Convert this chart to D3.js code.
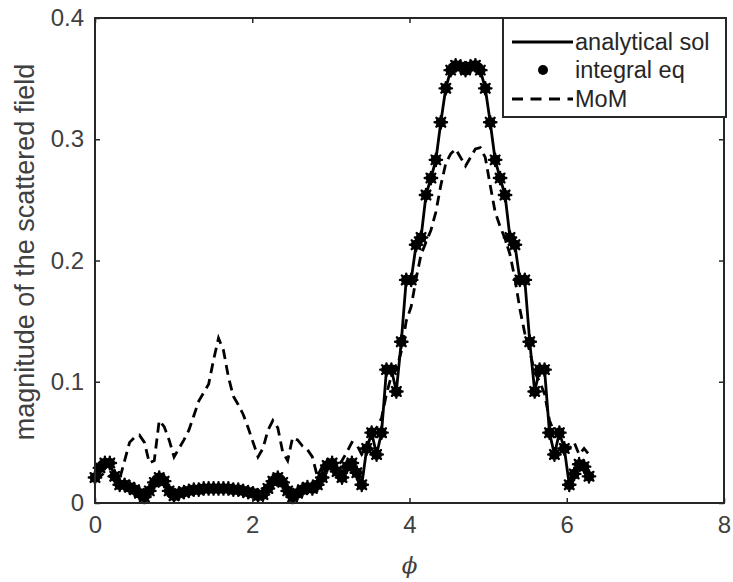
<!DOCTYPE html>
<meta charset="utf-8">
<style>
  body { margin: 0; background: #fff; }
  text { font-family: "Liberation Sans", Arial, sans-serif; }
</style>

<svg width="733" height="582"></svg>
<script src="https://d3js.org/d3.v7.min.js"></script>
<script>

    // data: 101 samples of phi on [0, 2*pi]
    var nSamples = 101;

    var analytical = [
        0.021, 0.029, 0.033, 0.033, 0.022, 0.015, 0.015, 0.013, 0.011, 0.008,
        0.005, 0.010, 0.017, 0.021, 0.018, 0.010, 0.006, 0.008, 0.009, 0.010,
        0.011, 0.011, 0.012, 0.012, 0.012, 0.012, 0.012, 0.012, 0.011, 0.011,
        0.010, 0.009, 0.008, 0.006, 0.007, 0.012, 0.018, 0.021, 0.017, 0.010,
        0.005, 0.008, 0.011, 0.013, 0.012, 0.015, 0.021, 0.031, 0.033, 0.026,
        0.021, 0.030, 0.033, 0.025, 0.015, 0.045, 0.058, 0.040, 0.058, 0.110,
        0.110, 0.092, 0.133, 0.184, 0.184, 0.213, 0.219, 0.254, 0.268, 0.283,
        0.314, 0.342, 0.357, 0.361, 0.360, 0.357, 0.360, 0.361, 0.357, 0.342,
        0.314, 0.283, 0.268, 0.254, 0.219, 0.213, 0.184, 0.184, 0.133, 0.092,
        0.110, 0.110, 0.058, 0.040, 0.058, 0.045, 0.015, 0.024, 0.032, 0.030,
        0.022
    ];

    // integral equation result sits on top of the analytical one
    var integralEq = analytical.slice();

    var mom = [
        0.020, 0.022, 0.025, 0.022, 0.018, 0.020, 0.035, 0.050, 0.054, 0.056,
        0.050, 0.033, 0.035, 0.068, 0.063, 0.052, 0.038, 0.045, 0.052, 0.060,
        0.072, 0.084, 0.091, 0.098, 0.118, 0.136, 0.126, 0.104, 0.088, 0.081,
        0.073, 0.062, 0.050, 0.038, 0.045, 0.060, 0.068, 0.062, 0.042, 0.035,
        0.054, 0.052, 0.047, 0.044, 0.038, 0.022, 0.030, 0.035, 0.030, 0.030,
        0.035, 0.042, 0.050, 0.048, 0.040, 0.045, 0.058, 0.062, 0.070, 0.090,
        0.105, 0.110, 0.125, 0.150, 0.162, 0.185, 0.205, 0.215, 0.225, 0.240,
        0.262, 0.280, 0.288, 0.292, 0.285, 0.278, 0.285, 0.292, 0.293, 0.285,
        0.262, 0.240, 0.228, 0.218, 0.205, 0.185, 0.160, 0.140, 0.125, 0.108,
        0.100, 0.090, 0.068, 0.058, 0.055, 0.048, 0.045, 0.050, 0.040, 0.045,
        0.040
    ];

    var xTicks = [0, 2, 4, 6, 8];
    var yTicks = [0, 0.1, 0.2, 0.3, 0.4];
    var legendLabels = ["analytical sol", "integral eq", "MoM"];

    var phi = d3.range(nSamples).map(function(i){ return 2 * Math.PI * i / (nSamples - 1); });

    //First step: svg + plot area
    var svg = d3.select("svg"),
        margin = {top: 18, right: 9, bottom: 79, left: 95},
        width = +svg.attr("width") - margin.left - margin.right,
        height = +svg.attr("height") - margin.top - margin.bottom;

    var axisColor = "#262626";

    var g = svg.append("g")
        .attr("transform", "translate(" + margin.left + "," + margin.top + ")");

    var x = d3.scaleLinear().domain([0, 8]).range([0, width]);
    var y = d3.scaleLinear().domain([0, 0.4]).range([height, 0]);

    //Second step: the curves
    var line = d3.line()
        .x(function(d){ return x(d[0]); })
        .y(function(d){ return y(d[1]); });

    g.append("path")
        .datum(d3.zip(phi, mom))
        .attr("fill", "none")
        .attr("stroke", "#000")
        .attr("stroke-width", 2.8)
        .attr("stroke-dasharray", "10,6")
        .attr("d", line);

    g.append("path")
        .datum(d3.zip(phi, analytical))
        .attr("fill", "none")
        .attr("stroke", "#000")
        .attr("stroke-width", 2.8)
        .attr("d", line);

    // heavy "*" marker: filled core + 8 short spokes
    var starR = 6.2, s = starR * Math.SQRT1_2;
    var starPath = "M" + (-starR) + ",0L" + starR + ",0" +
        "M0," + (-starR) + "L0," + starR +
        "M" + (-s) + "," + (-s) + "L" + s + "," + s +
        "M" + (-s) + "," + s + "L" + s + "," + (-s);

    var markers = g.append("g")
        .selectAll("g")
        .data(d3.zip(phi, integralEq))
        .enter()
        .append("g")
            .attr("transform", function(d){ return "translate(" + x(d[0]) + "," + y(d[1]) + ")"; });

    markers.append("circle")
        .attr("r", 5.3)
        .attr("fill", "#000");

    markers.append("path")
        .attr("d", starPath)
        .attr("stroke", "#000")
        .attr("stroke-width", 2.4)
        .attr("stroke-linecap", "round");

    //Third step: axes with inward ticks, box on
    var tickLen = 5;
    function styleAxis(sel) {
        sel.select(".domain").remove();
        sel.selectAll(".tick line").attr("stroke", axisColor).attr("stroke-width", 1.5);
        sel.selectAll(".tick text")
            .attr("fill", "#404040")
            .style("font-size", "24px");
    }

    g.append("g")
        .attr("transform", "translate(0," + height + ")")
        .call(d3.axisBottom(x).tickValues(xTicks).tickSize(-tickLen).tickPadding(13))
        .call(styleAxis);

    g.append("g")
        .call(d3.axisLeft(y).tickValues(yTicks).tickSize(-tickLen).tickPadding(11)
            .tickFormat(function(d){ return d === 0 ? "0" : d3.format(".1f")(d); }))
        .call(styleAxis);

    g.append("g")
        .call(d3.axisTop(x).tickValues(xTicks).tickSize(-tickLen).tickFormat(""))
        .call(styleAxis);

    g.append("g")
        .attr("transform", "translate(" + width + ",0)")
        .call(d3.axisRight(y).tickValues(yTicks).tickSize(-tickLen).tickFormat(""))
        .call(styleAxis);

    g.append("rect")
        .attr("width", width)
        .attr("height", height)
        .attr("fill", "none")
        .attr("stroke", axisColor)
        .attr("stroke-width", 2);

    //Fourth step: axis labels
    svg.append("text")
        .attr("x", margin.left + width / 2)
        .attr("y", 573)
        .attr("text-anchor", "middle")
        .attr("fill", "#404040")
        .style("font-family", "'DejaVu Serif', serif")
        .style("font-style", "italic")
        .style("font-size", "23px")
        .text("\u03d5");

    svg.append("text")
        .attr("transform", "translate(34,252) rotate(-90)")
        .attr("text-anchor", "middle")
        .attr("fill", "#404040")
        .style("font-size", "27px")
        .text("magnitude of the scattered field");

    //Fifth step: legend
    var legend = svg.append("g")
        .attr("transform", "translate(503,18)");

    legend.append("rect")
        .attr("width", 223)
        .attr("height", 99)
        .attr("fill", "#fff")
        .attr("stroke", axisColor)
        .attr("stroke-width", 2);

    var rowY = [24, 52, 81];

    legend.append("line")
        .attr("x1", 9).attr("x2", 70)
        .attr("y1", rowY[0]).attr("y2", rowY[0])
        .attr("stroke", "#000").attr("stroke-width", 2.8);

    legend.append("circle")
        .attr("cx", 40).attr("cy", rowY[1])
        .attr("r", 5)
        .attr("fill", "#000");

    legend.append("line")
        .attr("x1", 9).attr("x2", 70)
        .attr("y1", rowY[2]).attr("y2", rowY[2])
        .attr("stroke", "#000").attr("stroke-width", 2.8)
        .attr("stroke-dasharray", "11,7.5");

    legend.selectAll("text.lbl")
        .data(legendLabels)
        .enter()
        .append("text")
            .attr("class", "lbl")
            .attr("x", 72)
            .attr("y", function(d, i){ return rowY[i]; })
            .attr("dy", "0.35em")
            .attr("fill", "#262626")
            .style("font-size", "23.5px")
            .text(function(d){ return d; });

</script>
